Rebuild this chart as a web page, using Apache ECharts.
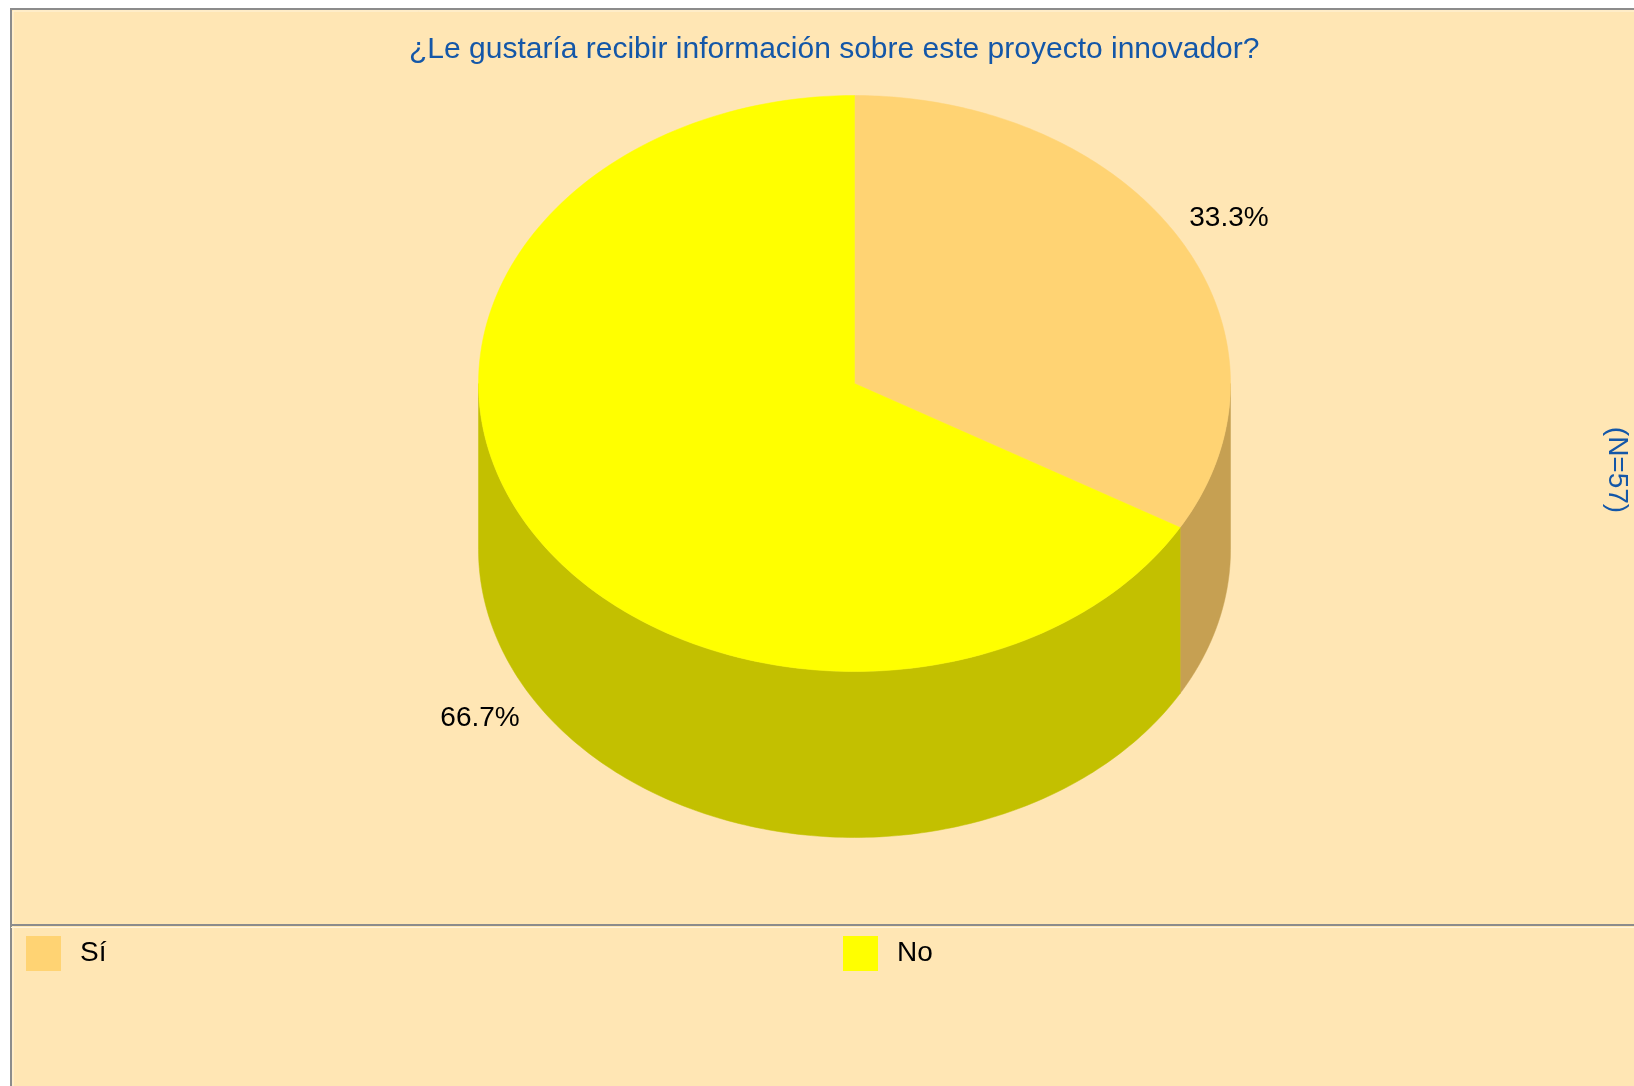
<!DOCTYPE html>
<html>
<head>
<meta charset="utf-8">
<script src="https://cdn.jsdelivr.net/npm/echarts@6/dist/echarts.min.js"></script>
<style>
  html, body { margin: 0; padding: 0; background: #fff; }
  #main { width: 1634px; height: 1086px; }
</style>
</head>
<body>
<div id="main"></div>
<script>
// datos de la encuesta (N=57)
const categories = ['Sí', 'No']
const values = [19, 38]
const topColors = ['#FFD373', '#FFFF00']
const sideColors = ['#C6A052', '#C3C000']
const titleText = '¿Le gustaría recibir información sobre este proyecto innovador?'
const noteText = '(N=57)'

// geometria del pastel 3D
const cx = 854.5, cy = 383.5, rx = 376, ry = 288, depth = 166
const dropRatio = depth / ry
const font = 'Liberation Sans'

const total = values.reduce((a, b) => a + b, 0)
let acc = 0
const slices = values.map(v => {
  const s = acc / total
  acc += v
  return [s, acc / total, v]
})

function renderSlice(params, api) {
  const start = api.value(0) * Math.PI * 2
  const end = api.value(1) * Math.PI * 2
  const val = api.value(2)
  const i = params.seriesIndex
  const pt = (t, r, drop) => api.coord([r * Math.sin(t), r * Math.cos(t) - drop])
  const steps = 160
  const children = []

  // pared lateral (solo la mitad frontal es visible)
  const a = Math.max(start, Math.PI / 2)
  const b = Math.min(end, Math.PI * 3 / 2)
  if (b > a) {
    const side = []
    for (let k = 0; k <= steps; k++) side.push(pt(a + (b - a) * k / steps, 1, 0))
    for (let k = steps; k >= 0; k--) side.push(pt(a + (b - a) * k / steps, 1, dropRatio))
    children.push({
      type: 'polygon',
      shape: { points: side },
      style: { fill: sideColors[i], stroke: sideColors[i], lineWidth: 0.5 }
    })
  }

  // cara superior
  const top = [pt(0, 0, 0)]
  for (let k = 0; k <= steps; k++) top.push(pt(start + (end - start) * k / steps, 1, 0))
  children.push({
    type: 'polygon',
    shape: { points: top },
    style: { fill: topColors[i], stroke: topColors[i], lineWidth: 0.5 }
  })

  // etiqueta de porcentaje
  const mid = (start + end) / 2
  const lp = pt(mid, 1.15, Math.cos(mid) < 0 ? dropRatio : 0)
  children.push({
    type: 'text',
    x: lp[0], y: lp[1] + (Math.cos(mid) < 0 ? 3 : 0),
    style: {
      text: (val / total * 100).toFixed(1) + '%',
      fill: '#000', font: '28px ' + font,
      align: 'center', verticalAlign: 'middle'
    }
  })
  return { type: 'group', children: children }
}

const chart = echarts.init(document.getElementById('main'))

const legendBase = {
  top: 936,
  orient: 'horizontal',
  padding: 0,
  icon: 'rect',
  itemWidth: 35,
  itemHeight: 35,
  selectedMode: false,
  textStyle: { fontSize: 28, color: '#000', fontFamily: font, padding: [6, 0, 0, 14] }
}

const option = {
  backgroundColor: '#fff',
  animation: false,
  title: {
    text: titleText,
    left: 404,
    top: 30,
    textStyle: { color: '#1457A8', fontSize: 30, fontWeight: 'normal', fontFamily: font }
  },
  legend: [
    Object.assign({}, legendBase, { data: [categories[0]], left: 26 }),
    Object.assign({}, legendBase, { data: [categories[1]], left: 843 })
  ],
  grid: {
    left: cx - rx,
    top: cy - ry,
    width: rx * 2,
    height: ry * 2 + depth
  },
  xAxis: { type: 'value', min: -1, max: 1, show: false },
  yAxis: { type: 'value', min: -1 - dropRatio, max: 1, show: false },
  graphic: [
    {
      type: 'rect', z: -10,
      shape: { x: 11, y: 9, width: 1640, height: 1100 },
      style: { fill: '#FFE6B4', stroke: '#8c8c8c', lineWidth: 2 }
    },
    {
      type: 'polyline', z: -9,
      shape: { points: [[13, 1090], [13, 11], [1640, 11]] },
      style: { stroke: '#fff4dc', lineWidth: 1, fill: null }
    },
    {
      type: 'line', z: -9,
      shape: { x1: 11, y1: 925, x2: 1640, y2: 925 },
      style: { stroke: '#8c8c8c', lineWidth: 2 }
    },
    {
      type: 'line', z: -9,
      shape: { x1: 11, y1: 927.5, x2: 1640, y2: 927.5 },
      style: { stroke: '#fff4dc', lineWidth: 1 }
    },
    {
      type: 'text',
      x: 1617, y: 470,
      rotation: -Math.PI / 2,
      style: {
        text: noteText, fill: '#1457A8', font: '28px ' + font,
        align: 'center', verticalAlign: 'middle'
      }
    }
  ],
  series: categories.map((name, i) => ({
    type: 'custom',
    name: name,
    coordinateSystem: 'cartesian2d',
    itemStyle: { color: topColors[i] },
    renderItem: renderSlice,
    data: [slices[i]]
  }))
}

chart.setOption(option)
</script>
</body>
</html>
